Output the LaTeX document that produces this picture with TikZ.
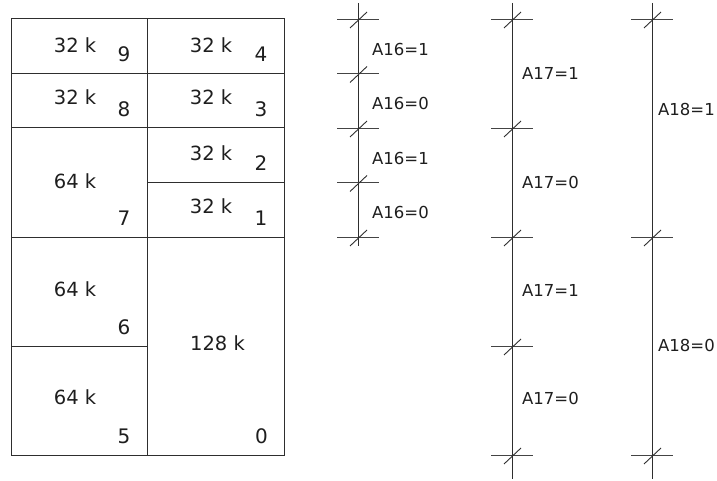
\documentclass[tikz,border=0pt]{standalone}
\usepackage{fontspec}
\setmainfont{DejaVu Sans}
\definecolor{linec}{HTML}{2E2E2E}
\definecolor{tickc}{HTML}{444444}
\definecolor{txtc}{HTML}{1E1E1E}
\newcommand\mytick[2]{%
  \draw[tickh] (#1-21,#2) -- (#1+21,#2);
  \draw[axisline] (#1-8,#2+9) -- (#1+9,#2-7);}
\begin{document}
\begin{tikzpicture}[x=1pt,y=-1pt,
  box/.style={draw=linec, line width=1pt},
  lbl/.style={font=\fontsize{19.5}{21}\selectfont, text=txtc, inner sep=0pt},
  num/.style={font=\fontsize{20}{22}\selectfont, text=txtc, inner sep=0pt},
  alb/.style={font=\fontsize{16.5}{18}\selectfont, text=txtc, inner sep=0pt, anchor=west},
  axisline/.style={draw=linec, line width=0.9pt},
  tickh/.style={draw=tickc, line width=0.9pt}]
\useasboundingbox (0,0) rectangle (717,481);
% memory map table
\draw[box] (11,19) rectangle (284,455);
\draw[box] (147,19) -- (147,455);
\draw[box] (11,73.5) -- (284,73.5);
\draw[box] (11,128) -- (284,128);
\draw[box] (147,182.5) -- (284,182.5);
\draw[box] (11,237) -- (284,237);
\draw[box] (11,346) -- (147,346);
% left column labels
\node[lbl] (s9) at (75,45) {32 k};   \node[num] (n9) at (124,54) {9};
\node[lbl] (s8) at (75,97.5) {32 k}; \node[num] (n8) at (124,109.5) {8};
\node[lbl] (s7) at (75,181) {64 k};  \node[num] (n7) at (124,218) {7};
\node[lbl] (s6) at (75,289) {64 k};  \node[num] (n6) at (124,327.5) {6};
\node[lbl] (s5) at (75,397) {64 k};  \node[num] (n5) at (124,436) {5};
% right column labels
\node[lbl] (s4) at (211,45) {32 k};  \node[num] (n4) at (261,54) {4};
\node[lbl] (s3) at (211,97.5) {32 k};\node[num] (n3) at (261,109.5) {3};
\node[lbl] (s2) at (211,153) {32 k}; \node[num] (n2) at (261,163) {2};
\node[lbl] (s1) at (211,206.5) {32 k};\node[num] (n1) at (261,218) {1};
\node[lbl] (s0) at (217.5,343.5) {128 k};\node[num] (n0) at (261.5,436) {0};
% A16 scale
\draw[axisline] (358,3) -- (358,246);
\foreach \y in {19,73.5,128,182.5,237} {\mytick{358}{\y}}
\node[alb] (a16a) at (372,49) {A16=1};
\node[alb] (a16b) at (372,103.5) {A16=0};
\node[alb] (a16c) at (372,158) {A16=1};
\node[alb] (a16d) at (372,212) {A16=0};
% A17 scale
\draw[axisline] (512,3) -- (512,479);
\foreach \y in {19,128,237,346,455} {\mytick{512}{\y}}
\node[alb] (a17a) at (522,73.5) {A17=1};
\node[alb] (a17b) at (522,182) {A17=0};
\node[alb] (a17c) at (522,290) {A17=1};
\node[alb] (a17d) at (522,398) {A17=0};
% A18 scale
\draw[axisline] (652,3) -- (652,479);
\foreach \y in {19,237,455} {\mytick{652}{\y}}
\node[alb] (a18a) at (658,109) {A18=1};
\node[alb] (a18b) at (658,345) {A18=0};
\end{tikzpicture}
\end{document}
